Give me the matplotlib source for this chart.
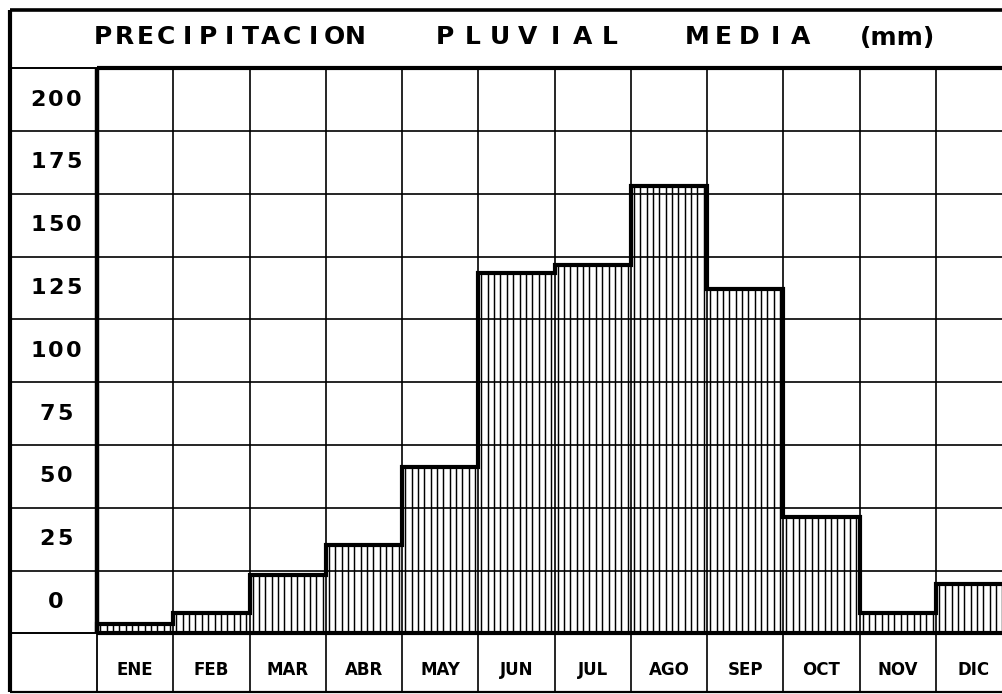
import numpy as np
import matplotlib
matplotlib.use("Agg")
import matplotlib.pyplot as plt

# monthly mean rainfall (mm)
months = ["ENE", "FEB", "MAR", "ABR", "MAY", "JUN", "JUL", "AGO", "SEP", "OCT", "NOV", "DIC"]
rain_mm = [3.6, 8.0, 23.2, 35.2, 66.3, 143.6, 146.7, 178.2, 137.0, 46.4, 8.0, 19.5]
tick_values = [0, 25, 50, 75, 100, 125, 150, 175, 200]
title_words = ["PRECIPITACION", "PLUVIAL", "MEDIA"]
title_unit = "(mm)"

W, H = 1003, 694
# layout in pixels of the original sheet
PLOT_LEFT, COL_W = 97.0, 76.25
BASE_Y, ROW_H = 633.3, 62.78
FRAME_L, FRAME_T, FRAME_B = 10.0, 10.0, 692.0
MM_PER_ROW = 25.0


def dx(px):
    return (px - PLOT_LEFT) / COL_W


def dy(py):
    return (BASE_Y - py) / ROW_H * MM_PER_ROW


def spaced(fig, text, cx, cy, step, size):
    # monospaced hand lettering: put each char on its own slot
    n = len(text)
    for i, ch in enumerate(text):
        x = cx + (i - (n - 1) / 2) * step
        fig.text(x / W, 1 - cy / H, ch, ha="center", va="center",
                 fontsize=size, fontweight="bold", color="black")


fig = plt.figure(figsize=(W / 100, H / 100), dpi=100)
ax = fig.add_axes([FRAME_L / W, (H - FRAME_B) / H, (W - FRAME_L) / W, (FRAME_B - FRAME_T) / H])
x0, x1 = dx(FRAME_L), dx(W)
y0, y1 = dy(FRAME_B), dy(FRAME_T)
ax.set_xlim(x0, x1)
ax.set_ylim(y0, y1)
ax.axis("off")

top = MM_PER_ROW * 9
n = len(months)

# vertical hatching inside the bars
per_month = 12
for i, v in enumerate(rain_mm):
    xs = i + (np.arange(per_month) + 0.5) / per_month
    ax.vlines(xs, 0, v, color="black", lw=1.05, zorder=2)

# grid
for k in range(1, 9):
    ax.hlines(k * MM_PER_ROW, x0, x1, color="black", lw=1.2, zorder=3)
ax.hlines([0, top], x0, 0, color="black", lw=1.4, zorder=3)
ax.hlines([0, top], 0, x1, color="black", lw=3.0, zorder=4)
for i in range(1, n):
    ax.vlines(i, y0, top, color="black", lw=1.2, zorder=3)
ax.vlines(0, 0, top, color="black", lw=3.2, zorder=4)
ax.vlines(0, y0, 0, color="black", lw=1.3, zorder=3)

# outer frame
ax.vlines(x0, y0, y1, color="black", lw=3.0, zorder=5, clip_on=False)
ax.hlines(y1, x0, x1, color="black", lw=2.6, zorder=5, clip_on=False)
ax.hlines(y0, x0, x1, color="black", lw=1.6, zorder=5, clip_on=False)

# step outline of the bars
ax.stairs(rain_mm, np.arange(n + 1), baseline=0, color="black", lw=3.0, zorder=6)

# month labels in the bottom row
for i, m in enumerate(months):
    ax.text(i + 0.5, dy(670), m, ha="center", va="center", fontsize=12,
            fontweight="heavy", color="black")

# value labels sit in the middle of each row
for v in tick_values:
    spaced(fig, str(v), 56, BASE_Y - (v + MM_PER_ROW / 2) / MM_PER_ROW * ROW_H, 18, 16)

# title, letter spaced
spaced(fig, title_words[0], 229, 37.5, 21, 18)
spaced(fig, title_words[1], 527.5, 37.5, 27.5, 18)
spaced(fig, title_words[2], 749, 37.5, 26, 18)
fig.text(898 / W, 1 - 37.5 / H, title_unit, ha="center", va="center",
         fontsize=18, fontweight="bold", color="black")

fig.savefig("out.png", dpi=100, facecolor="white")
